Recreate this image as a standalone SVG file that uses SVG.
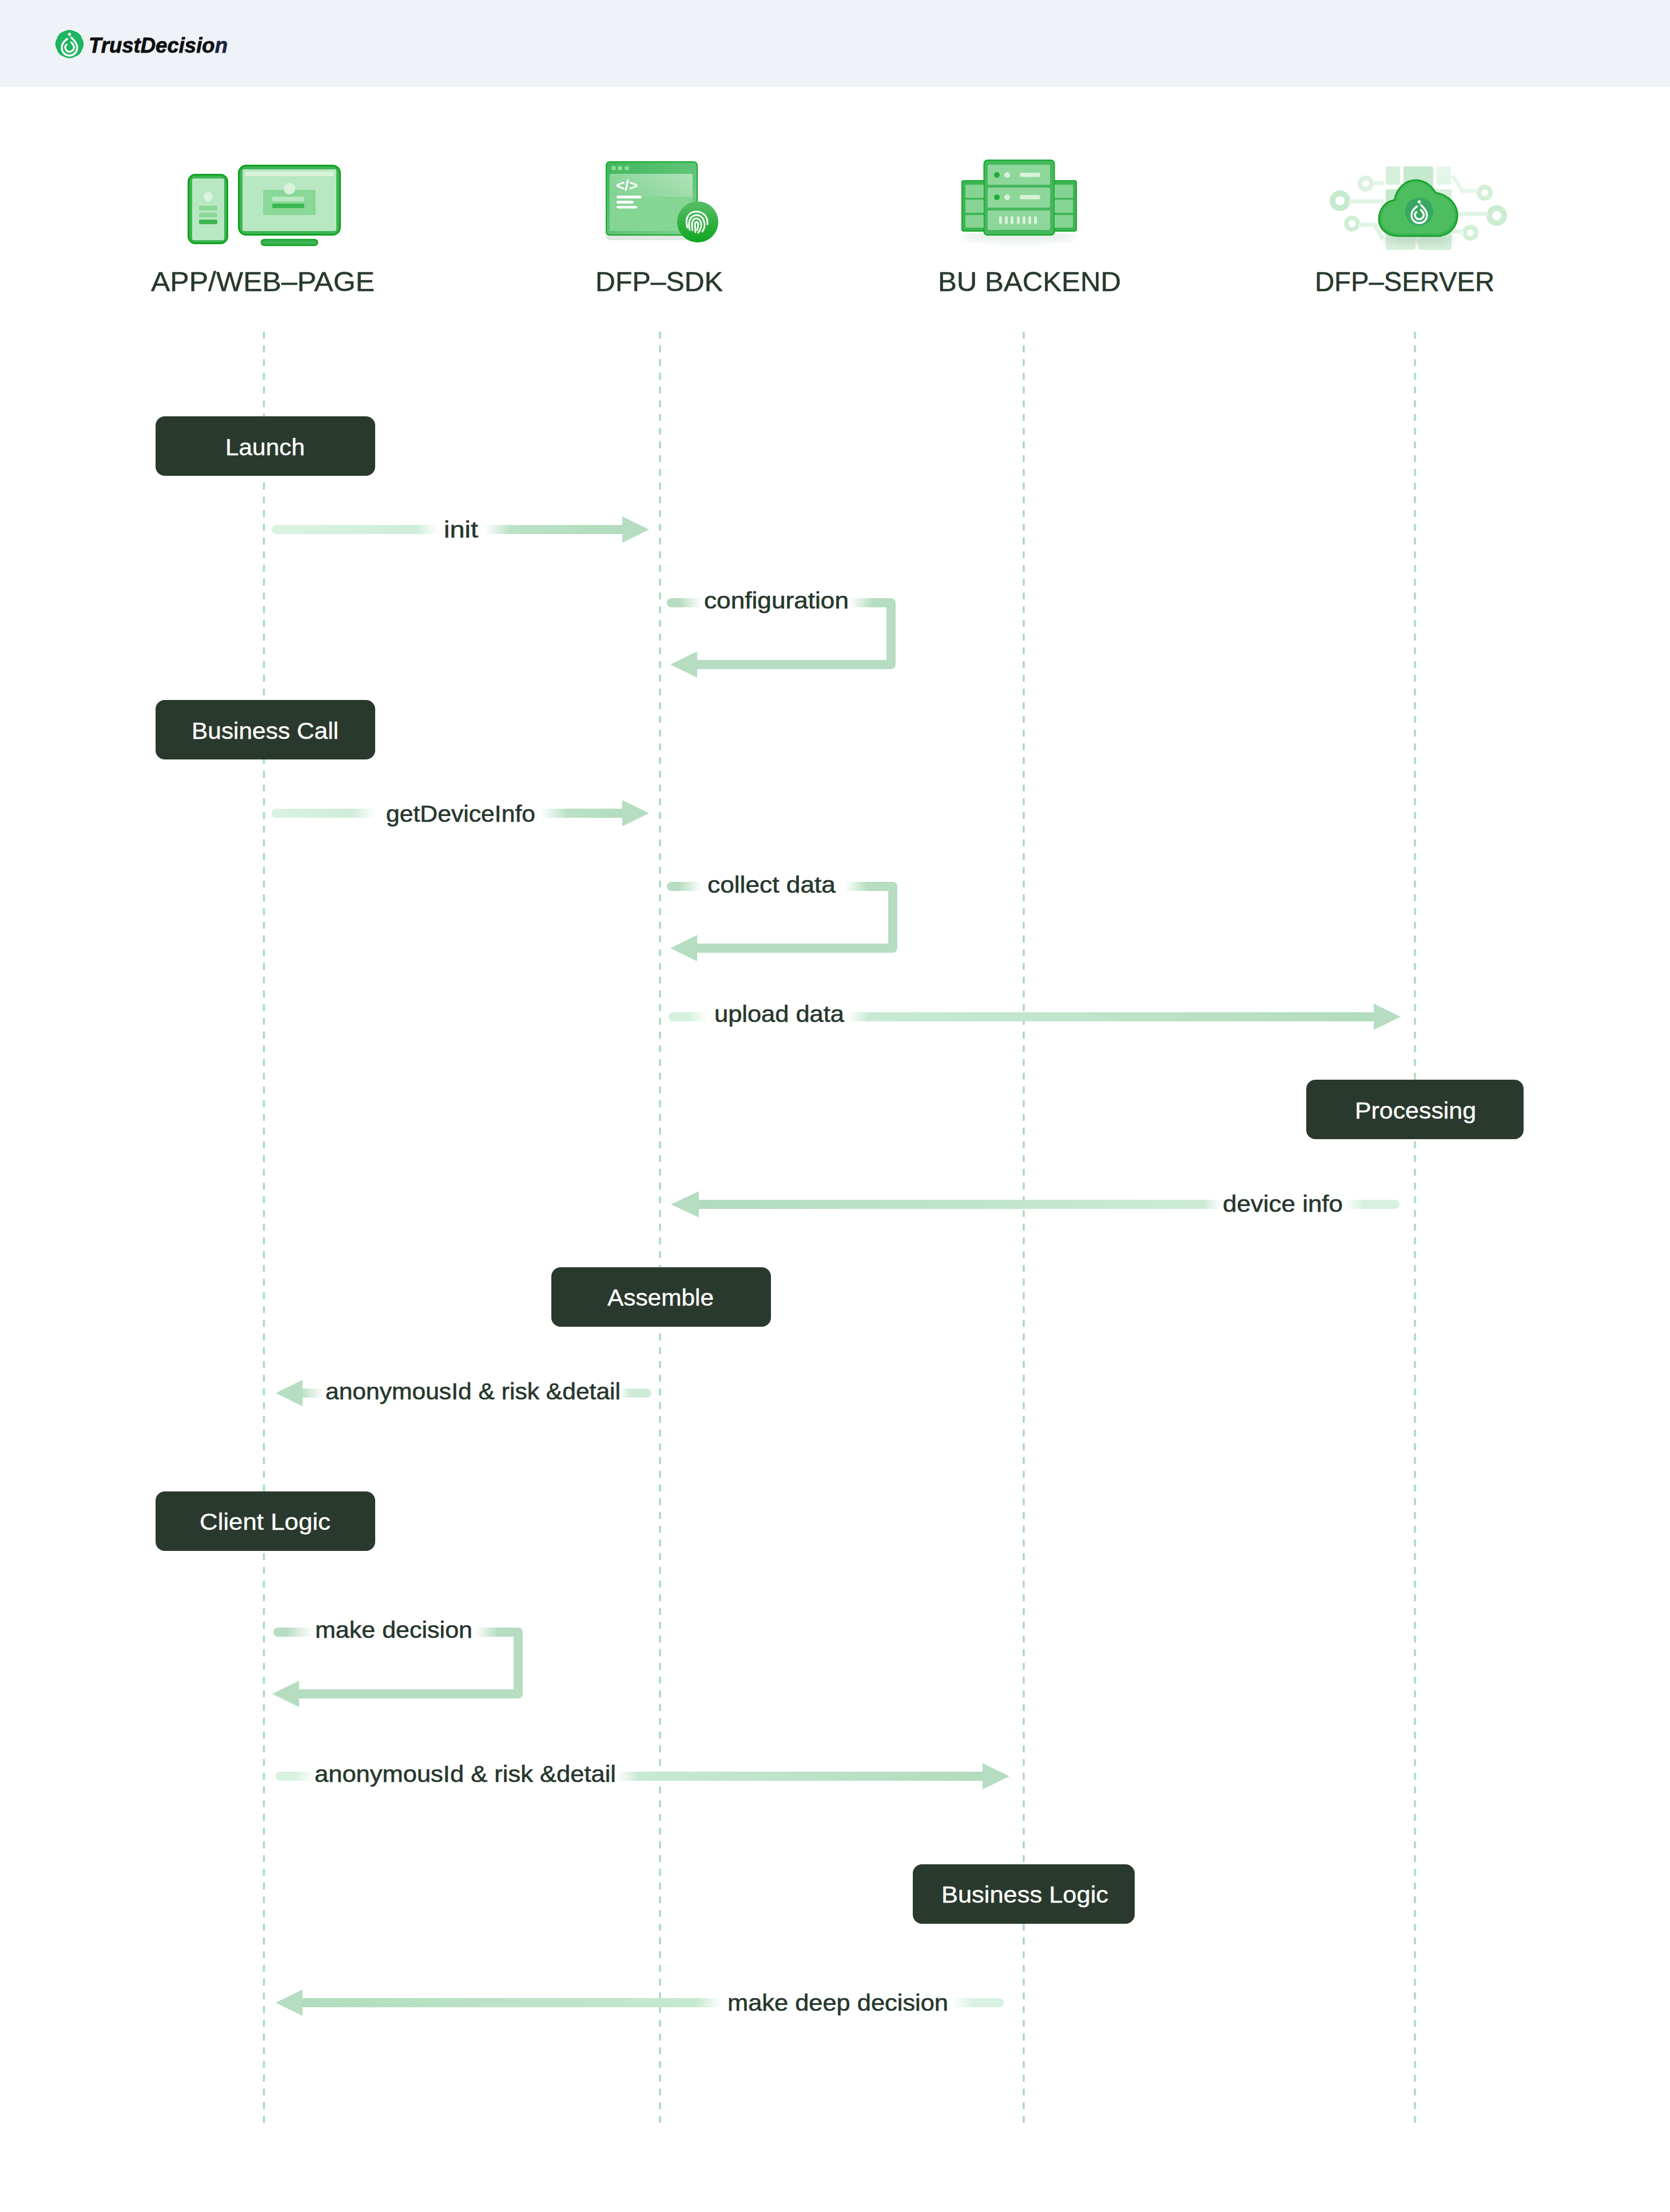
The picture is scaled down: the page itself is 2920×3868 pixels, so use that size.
<svg xmlns="http://www.w3.org/2000/svg" xmlns:xlink="http://www.w3.org/1999/xlink" width="2920" height="3868" viewBox="0 0 2920 3868">
<style>
text{font-family:"Liberation Sans",Arial,sans-serif}
.h{font-size:48px;fill:#27392D;stroke:#27392D;stroke-width:.5px}
.l{font-size:40px;fill:#26382C;stroke:#26382C;stroke-width:.6px}
.b{font-size:40px;fill:#fff;stroke:#fff;stroke-width:.4px}
.box{fill:#2A392D}
.life{stroke:#A8D8B8;stroke-width:3.3;stroke-dasharray:12 12;fill:none}
.s{fill:none;stroke-width:16;stroke-linecap:round}
.bend{fill:none;stroke:#B6DDC1;stroke-width:16;stroke-linejoin:round}
.head{fill:#B6DDC1}
</style>
<defs>
<linearGradient id="g1" gradientUnits="userSpaceOnUse" x1="475" y1="0" x2="1090" y2="0"><stop offset="0" stop-color="#DAF3E3"/><stop offset=".41" stop-color="#CFEDD9"/><stop offset=".475" stop-color="#CFEDD9" stop-opacity="0"/><stop offset=".605" stop-color="#BCE2C8" stop-opacity="0"/><stop offset=".678" stop-color="#BCE2C8"/><stop offset="1" stop-color="#B2DCBD"/></linearGradient>
<linearGradient id="g2" gradientUnits="userSpaceOnUse" x1="1166" y1="0" x2="1526" y2="0"><stop offset="0" stop-color="#B6DDC1"/><stop offset=".06" stop-color="#B6DDC1"/><stop offset=".17" stop-color="#B6DDC1" stop-opacity="0"/><stop offset=".886" stop-color="#B6DDC1" stop-opacity="0"/><stop offset="1" stop-color="#B6DDC1"/></linearGradient>
<linearGradient id="g3" gradientUnits="userSpaceOnUse" x1="475" y1="0" x2="1090" y2="0"><stop offset="0" stop-color="#DAF3E3"/><stop offset=".228" stop-color="#D0EDD9"/><stop offset=".3" stop-color="#D0EDD9" stop-opacity="0"/><stop offset=".764" stop-color="#BCE2C8" stop-opacity="0"/><stop offset=".837" stop-color="#BCE2C8"/><stop offset="1" stop-color="#B2DCBD"/></linearGradient>
<linearGradient id="g4" gradientUnits="userSpaceOnUse" x1="1166" y1="0" x2="1517" y2="0"><stop offset="0" stop-color="#B6DDC1"/><stop offset=".06" stop-color="#B6DDC1"/><stop offset=".174" stop-color="#B6DDC1" stop-opacity="0"/><stop offset=".886" stop-color="#B6DDC1" stop-opacity="0"/><stop offset="1" stop-color="#B6DDC1"/></linearGradient>
<linearGradient id="g5" gradientUnits="userSpaceOnUse" x1="1169" y1="0" x2="2402" y2="0"><stop offset="0" stop-color="#D4F0DD"/><stop offset=".027" stop-color="#D4F0DD"/><stop offset=".056" stop-color="#D4F0DD" stop-opacity="0"/><stop offset=".255" stop-color="#C8EAD3" stop-opacity="0"/><stop offset=".283" stop-color="#C8EAD3"/><stop offset="1" stop-color="#B2DCBD"/></linearGradient>
<linearGradient id="g6" gradientUnits="userSpaceOnUse" x1="1222" y1="0" x2="2447" y2="0"><stop offset="0" stop-color="#B2DCBD"/><stop offset=".721" stop-color="#CCEBD7"/><stop offset=".745" stop-color="#CCEBD7" stop-opacity="0"/><stop offset=".921" stop-color="#D6F1DF" stop-opacity="0"/><stop offset=".949" stop-color="#D6F1DF"/><stop offset="1" stop-color="#D6F1DF"/></linearGradient>
<linearGradient id="g7" gradientUnits="userSpaceOnUse" x1="525" y1="0" x2="1139" y2="0"><stop offset="0" stop-color="#B6DDC1"/><stop offset=".065" stop-color="#B6DDC1" stop-opacity="0"/><stop offset=".912" stop-color="#CEECD8" stop-opacity="0"/><stop offset=".938" stop-color="#CEECD8"/><stop offset="1" stop-color="#CEECD8"/></linearGradient>
<linearGradient id="g8" gradientUnits="userSpaceOnUse" x1="478" y1="0" x2="871" y2="0"><stop offset="0" stop-color="#B6DDC1"/><stop offset=".058" stop-color="#B6DDC1"/><stop offset=".173" stop-color="#B6DDC1" stop-opacity="0"/><stop offset=".896" stop-color="#B6DDC1" stop-opacity="0"/><stop offset="1" stop-color="#B6DDC1"/></linearGradient>
<linearGradient id="g9" gradientUnits="userSpaceOnUse" x1="482" y1="0" x2="1718" y2="0"><stop offset="0" stop-color="#D8F1E0"/><stop offset=".027" stop-color="#D8F1E0"/><stop offset=".055" stop-color="#D8F1E0" stop-opacity="0"/><stop offset=".482" stop-color="#C6E9D2" stop-opacity="0"/><stop offset=".515" stop-color="#C6E9D2"/><stop offset="1" stop-color="#B2DCBD"/></linearGradient>
<linearGradient id="g10" gradientUnits="userSpaceOnUse" x1="525" y1="0" x2="1755" y2="0"><stop offset="0" stop-color="#B2DCBD"/><stop offset=".562" stop-color="#C5E8D1"/><stop offset=".599" stop-color="#C5E8D1" stop-opacity="0"/><stop offset=".926" stop-color="#D8F1E0" stop-opacity="0"/><stop offset=".959" stop-color="#D8F1E0"/><stop offset="1" stop-color="#D8F1E0"/></linearGradient>
<linearGradient id="win" x1="0" y1="0" x2="1" y2="1"><stop offset="0" stop-color="#3FB85B"/><stop offset="1" stop-color="#7CCF8F"/></linearGradient>
<linearGradient id="pan" x1="0" y1="1" x2="1" y2="0"><stop offset="0" stop-color="#6CC982"/><stop offset="1" stop-color="#AEE3B8"/></linearGradient>
<linearGradient id="fp" x1="0" y1="0" x2="0" y2="1"><stop offset="0" stop-color="#58BE68"/><stop offset="1" stop-color="#0FA61F"/></linearGradient>
<linearGradient id="cl" x1="0" y1="0" x2="0" y2="1"><stop offset="0" stop-color="#46BA59"/><stop offset="1" stop-color="#3CB552"/></linearGradient>
<filter id="soft" x="-30%" y="-50%" width="160%" height="200%"><feGaussianBlur stdDeviation="6"/></filter>
<path id="cloudshape" d="M2443.300 412.700H2513.300C2533.300 412.700 2548.300 396.700 2548.300 376.700C2548.300 356.700 2533.300 341.700 2510 336.700C2501.700 323.300 2490 315 2475 315C2456.700 315 2441.700 330 2438.300 350C2421.700 351.700 2411 366.700 2411 383.300C2411 400 2425 412.700 2443.300 412.700Z"/>
<g id="logomark">
<path d="M22.2 -9.2Q27.5 0 22.2 9.2Q19.4 19.4 9.2 22.2Q0 27.5 -9.2 22.2Q-19.4 19.4 -22.2 9.2Q-27.5 0 -22.2 -9.2Q-19.4 -19.4 -9.2 -22.2Q0 -27.5 9.2 -22.2Q19.4 -19.4 22.2 -9.2Z"/>
<path d="M-4 -9C-11 -4 -13.500 1 -13.500 6C-13.500 14 -8 20 0 20C8 20 13.500 14 13.500 6C13.500 0 8 -7 3 -11.500" fill="none" stroke="#fff" stroke-width="3.400" stroke-linecap="round"/>
<path d="M3 -3C6 0 8 3 8 6C8 10 4 13.500 0 13.500C-4 13.500 -7.500 10 -7.500 6C-7.500 4 -6.500 2 -5 1" fill="none" stroke="#fff" stroke-width="3.400" stroke-linecap="round"/>
<path d="M0 -20.500L3.400 -17L0 -13.500L-3.400 -17Z" fill="#fff"/>
</g>
</defs>
<rect width="2920" height="3868" fill="#fff"/>
<rect id="header-bar" width="2920" height="152" fill="#EFF2F7"/>
<g id="logo">
<use xlink:href="#logomark" href="#logomark" transform="translate(121.5 77)" fill="#1DB55F"/>
<text x="155" y="92" font-size="37" font-weight="700" font-style="italic" fill="#0E0E10" stroke="#0E0E10" stroke-width=".8" textLength="243" lengthAdjust="spacingAndGlyphs">TrustDecisio<tspan fill="#1B2447" stroke="#1B2447">n</tspan></text>
</g>
<g id="lifelines">
<line class="life" x1="461.500" y1="580" x2="461.500" y2="3714"/>
<line class="life" x1="1154" y1="580" x2="1154" y2="3714"/>
<line class="life" x1="1790" y1="580" x2="1790" y2="3714"/>
<line class="life" x1="2474" y1="580" x2="2474" y2="3714"/>
</g>
<g id="app-web-page">
<g stroke="#0FA31F" fill="#3DB454"><rect x="329.500" y="305.500" width="68" height="120" rx="12" stroke-width="3"/><rect x="417.500" y="289.500" width="177" height="121" rx="13" stroke-width="3"/><rect x="457" y="419" width="98" height="10" rx="5" stroke-width="2.500"/></g>
<rect x="336" y="312" width="56" height="108" rx="3" fill="#B8E8C2"/>
<circle cx="364" cy="344" r="8" fill="#DAF3DC"/>
<rect x="348" y="360" width="32" height="8" rx="2" fill="#8AD898"/><rect x="348" y="372" width="32" height="8" rx="2" fill="#8AD898"/><rect x="348" y="384" width="32" height="8" rx="2" fill="#3CB751"/>
<rect x="424" y="296" width="164" height="108" rx="3" fill="#B8E8C2"/>
<rect x="428" y="300" width="156" height="8" rx="4" fill="#D8F3D9"/>
<rect x="460" y="332" width="92" height="44" rx="2" fill="#8AD898"/>
<circle cx="506" cy="330" r="10" fill="#D8F3D9"/>
<rect x="476" y="344" width="56" height="8" rx="2" fill="#B8E8C2"/><rect x="476" y="356" width="56" height="8" rx="2" fill="#3CB751"/>
<text class="h" x="264" y="509" textLength="391" lengthAdjust="spacingAndGlyphs">APP/WEB–PAGE</text>
</g>
<g id="dfp-sdk">
<rect x="1059" y="396" width="161" height="24" rx="8" fill="#DDE9E1"/>
<rect x="1060" y="283" width="159" height="128" rx="6" fill="url(#win)" stroke="#17A82C" stroke-width="2"/>
<circle cx="1073" cy="294" r="4" fill="#8FD9A0"/><circle cx="1084" cy="294" r="4" fill="#8FD9A0"/><circle cx="1096" cy="294" r="4" fill="#8FD9A0"/>
<rect x="1066" y="304" width="145" height="100" rx="3" fill="url(#pan)"/>
<rect x="1066" y="344" width="145" height="60" rx="3" fill="#85D595"/>
<text x="1077" y="333" font-size="26" font-weight="700" fill="#fff" textLength="38" lengthAdjust="spacingAndGlyphs">&lt;/&gt;</text>
<rect x="1078" y="342" width="44" height="5" rx="2.500" fill="#fff"/><rect x="1078" y="351" width="30" height="5" rx="2.500" fill="#fff"/><rect x="1078" y="360" width="36" height="4.500" rx="2.250" fill="#fff"/>
<circle cx="1220" cy="388" r="36" fill="url(#fp)"/>
<g fill="none" stroke="#fff" stroke-width="3" stroke-linecap="round"><path d="M1202 398C1198 385 1201 372 1216 370C1230 369 1238 380 1237 392" stroke-dasharray="22 3"/><path d="M1206 402C1203 390 1205 378 1217 376C1227 376 1232 384 1232 394C1232 399 1230 402 1228 405"/><path d="M1211 403C1209 393 1209 383 1217 382C1224 382 1227 389 1226 396C1225 400 1224 403 1221 407"/><path d="M1216 406C1216 398 1213 389 1218 388C1222 389 1221 395 1219 402"/></g>
<text class="h" x="1041" y="509" textLength="223" lengthAdjust="spacingAndGlyphs">DFP–SDK</text>
</g>
<g id="bu-backend">
<ellipse cx="1782" cy="414" rx="100" ry="9" fill="#E4EEE8" filter="url(#soft)"/>
<g fill="#3DB454" stroke="#16A82B" stroke-width="2"><rect x="1682" y="316" width="200" height="88" rx="3"/><rect x="1720.500" y="280" width="123" height="131" rx="6" fill="#45B85D"/></g>
<g fill="#86D493"><rect x="1688" y="323" width="32" height="23"/><rect x="1688" y="349" width="32" height="23"/><rect x="1688" y="376" width="32" height="22"/><rect x="1844" y="323" width="32" height="23"/><rect x="1844" y="349" width="32" height="23"/><rect x="1844" y="376" width="32" height="22"/></g>
<g fill="#8ED79B"><rect x="1727" y="288" width="109" height="35" rx="2"/><rect x="1727" y="328" width="109" height="35" rx="2"/><rect x="1727" y="368" width="109" height="34" rx="2"/></g>
<g fill="#1FAE35"><circle cx="1743" cy="306" r="5"/><circle cx="1743" cy="345" r="5"/></g>
<g fill="#D8F3D9"><circle cx="1761" cy="306" r="5"/><circle cx="1761" cy="345" r="5"/><rect x="1783" y="302" width="36" height="7.500" rx="3.700"/><rect x="1783" y="341" width="36" height="7.500" rx="3.700"/>
<rect x="1747" y="378" width="5" height="14" rx="2.500"/><rect x="1757" y="378" width="5" height="14" rx="2.500"/><rect x="1767" y="378" width="5" height="14" rx="2.500"/><rect x="1778" y="378" width="5" height="14" rx="2.500"/><rect x="1788" y="378" width="5" height="14" rx="2.500"/><rect x="1798" y="378" width="5" height="14" rx="2.500"/><rect x="1808" y="378" width="5" height="14" rx="2.500"/></g>
<text class="h" x="1640" y="509" textLength="320" lengthAdjust="spacingAndGlyphs">BU BACKEND</text>
</g>
<g id="dfp-server">
<rect x="2423" y="291" width="25" height="32" rx="3" fill="#D6F0DB"/><rect x="2454" y="291" width="52" height="40" rx="3" fill="#C5E9CD"/><rect x="2512" y="291" width="25" height="32" rx="3" fill="#E4F6E7"/>
<rect x="2423" y="331" width="50" height="60" rx="3" fill="#C5E9CD"/><rect x="2500" y="331" width="38" height="60" rx="3" fill="#D6F0DB"/>
<rect x="2423" y="395" width="52" height="42" rx="3" fill="#D6F0DB"/><rect x="2480" y="395" width="58" height="42" rx="3" fill="#D3EED9"/>
<g fill="none">
<circle cx="2388" cy="321" r="10" stroke="#DAF2DF" stroke-width="8"/><path d="M2400 320H2420" stroke="#E4F5E7" stroke-width="7"/>
<circle cx="2343" cy="351" r="13" stroke="#C6EACE" stroke-width="10"/><path d="M2358 352H2420" stroke="#DFF4E3" stroke-width="7"/>
<circle cx="2364" cy="391" r="10" stroke="#CFEED5" stroke-width="8"/><path d="M2375 393H2403L2418 418" stroke="#DFF4E3" stroke-width="7"/>
<circle cx="2596" cy="337" r="10" stroke="#D2EFD8" stroke-width="8"/><path d="M2540 307L2557 334H2584" stroke="#E6F6E9" stroke-width="7"/>
<circle cx="2617" cy="377" r="13" stroke="#CBECD2" stroke-width="10"/><path d="M2548 374H2602" stroke="#E0F4E4" stroke-width="7"/>
<circle cx="2571" cy="407" r="10" stroke="#D2EFD8" stroke-width="8"/><path d="M2538 405H2560" stroke="#E4F5E7" stroke-width="7"/>
</g>
<ellipse cx="2480" cy="418" rx="62" ry="8" fill="#BFD8C6" filter="url(#soft)"/>
<use xlink:href="#cloudshape" href="#cloudshape" fill="url(#cl)" stroke="#18A42A" stroke-width="3"/>
<use xlink:href="#cloudshape" href="#cloudshape" transform="translate(2479.600 367) scale(.92 .9) translate(-2479.600 -367)" fill="#4DBD5F"/>
<use xlink:href="#logomark" href="#logomark" transform="translate(2481.500 370)" fill="#36A862"/>
<text class="h" x="2299" y="509" textLength="314" lengthAdjust="spacingAndGlyphs">DFP–SERVER</text>
</g>
<g id="connectors">
<path class="s" stroke="url(#g1)" d="M483 926H1093"/><polygon class="head" points="1088,903 1135,926 1088,949"/>
<path class="s" stroke="url(#g2)" d="M1174 1054H1526"/><path class="bend" d="M1526 1054H1558V1162H1215"/><polygon class="head" points="1219,1139 1172,1162 1219,1185"/>
<path class="s" stroke="url(#g3)" d="M483 1422H1093"/><polygon class="head" points="1088,1399 1135,1422 1088,1445"/>
<path class="s" stroke="url(#g4)" d="M1174 1550H1517"/><path class="bend" d="M1517 1550H1561V1658H1215"/><polygon class="head" points="1219,1635 1172,1658 1219,1681"/>
<path class="s" stroke="url(#g5)" d="M1177 1778H2407"/><polygon class="head" points="2402,1755 2449,1778 2402,1801"/>
<path class="s" stroke="url(#g6)" d="M1217 2106H2439"/><polygon class="head" points="1222,2083 1173,2106 1222,2129"/>
<path class="s" stroke="url(#g7)" d="M525 2436H1131"/><polygon class="head" points="529,2413 482,2436 529,2459"/>
<path class="s" stroke="url(#g8)" d="M486 2854H871"/><path class="bend" d="M871 2854H906V2962H519"/><polygon class="head" points="523,2939 476,2962 523,2985"/>
<path class="s" stroke="url(#g9)" d="M490 3106H1723"/><polygon class="head" points="1718,3083 1765,3106 1718,3129"/>
<path class="s" stroke="url(#g10)" d="M525 3502H1747"/><polygon class="head" points="529,3479 482,3502 529,3525"/>
</g>
<g id="connector-labels">
<text class="l" x="776" y="940" textLength="60" lengthAdjust="spacingAndGlyphs">init</text>
<text class="l" x="1231" y="1064" textLength="253" lengthAdjust="spacingAndGlyphs">configuration</text>
<text class="l" x="675" y="1437" textLength="261" lengthAdjust="spacingAndGlyphs">getDeviceInfo</text>
<text class="l" x="1237" y="1561" textLength="224" lengthAdjust="spacingAndGlyphs">collect data</text>
<text class="l" x="1249" y="1787" textLength="227" lengthAdjust="spacingAndGlyphs">upload data</text>
<text class="l" x="2138" y="2119" textLength="210" lengthAdjust="spacingAndGlyphs">device info</text>
<text class="l" x="569" y="2447" textLength="516" lengthAdjust="spacingAndGlyphs">anonymousId &amp; risk &amp;detail</text>
<text class="l" x="551" y="2864" textLength="275" lengthAdjust="spacingAndGlyphs">make decision</text>
<text class="l" x="550" y="3116" textLength="527" lengthAdjust="spacingAndGlyphs">anonymousId &amp; risk &amp;detail</text>
<text class="l" x="1272" y="3516" textLength="386" lengthAdjust="spacingAndGlyphs">make deep decision</text>
</g>
<g id="launch"><rect class="box" x="272" y="728" width="384" height="104" rx="16"/><text class="b" x="394" y="796" textLength="139" lengthAdjust="spacingAndGlyphs">Launch</text></g>
<g id="business-call"><rect class="box" x="272" y="1224" width="384" height="104" rx="16"/><text class="b" x="335" y="1292" textLength="257" lengthAdjust="spacingAndGlyphs">Business Call</text></g>
<g id="processing"><rect class="box" x="2284" y="1888" width="380" height="104" rx="16"/><text class="b" x="2369" y="1956" textLength="212" lengthAdjust="spacingAndGlyphs">Processing</text></g>
<g id="assemble"><rect class="box" x="964" y="2216" width="384" height="104" rx="16"/><text class="b" x="1062" y="2283" textLength="186" lengthAdjust="spacingAndGlyphs">Assemble</text></g>
<g id="client-logic"><rect class="box" x="272" y="2608" width="384" height="104" rx="16"/><text class="b" x="349" y="2675" textLength="229" lengthAdjust="spacingAndGlyphs">Client Logic</text></g>
<g id="business-logic"><rect class="box" x="1596" y="3260" width="388" height="104" rx="16"/><text class="b" x="1646" y="3327" textLength="292" lengthAdjust="spacingAndGlyphs">Business Logic</text></g>
</svg>
